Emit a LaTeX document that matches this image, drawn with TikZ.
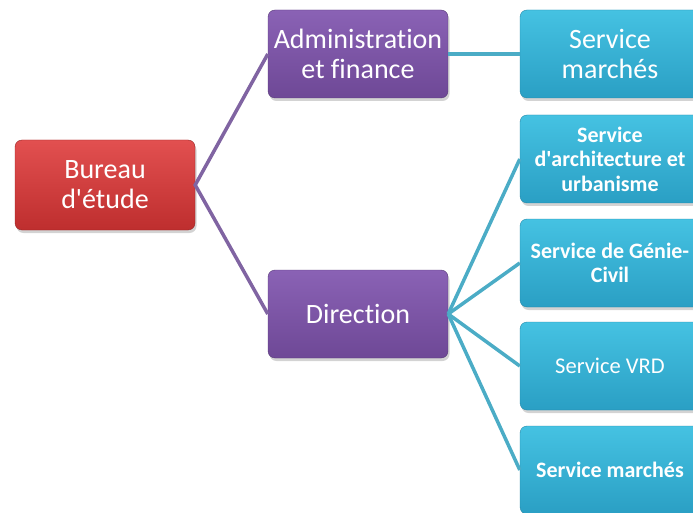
\documentclass[tikz,border=0pt]{standalone}
\usepackage{fontspec}
\setmainfont{Carlito}[Ligatures={NoCommon}]
\usetikzlibrary{shadows}

\definecolor{redtop}{HTML}{E25050}
\definecolor{redbot}{HTML}{BE2E2E}
\definecolor{purtop}{HTML}{8A62B5}
\definecolor{purbot}{HTML}{6E4896}
\definecolor{aqutop}{HTML}{45C2E2}
\definecolor{aqubot}{HTML}{2A9FC4}
\definecolor{purline}{HTML}{8064A2}
\definecolor{aquline}{HTML}{4BACC6}

\newcommand{\apos}{\textquotesingle}

\tikzset{
  card/.style={rounded corners=7pt, minimum width=180pt, minimum height=88pt,
    align=center, text=white, inner sep=2pt,
    drop shadow={opacity=0.35, shadow xshift=1.5pt, shadow yshift=-3pt}},
  redcard/.style={card, top color=redtop, bottom color=redbot, draw=redbot!80!black,
    font=\fontsize{28}{30}\selectfont},
  purcard/.style={card, top color=purtop, bottom color=purbot, draw=purbot!80!black,
    font=\fontsize{28}{30}\selectfont},
  aqucard/.style={card, top color=aqutop, bottom color=aqubot, draw=aqubot!85!black},
  bigtext/.style={font=\fontsize{28}{30}\selectfont},
  boldtext/.style={font=\fontsize{22}{24.5}\bfseries\selectfont},
  plaintext/.style={font=\fontsize{22.5}{24}\selectfont},
  purlink/.style={draw=purline, line width=3.5pt},
  aqulink/.style={draw=aquline, line width=3.5pt},
}

\begin{document}
\begin{tikzpicture}[x=1pt, y=-1pt]
  \useasboundingbox (0,0) rectangle (693,513);

  % first level
  \node[redcard, minimum height=90pt] (bureau) at (105,185) {Bureau\\d\apos étude};

  % second level
  \node[purcard] (admin) at (358,54) {Administration\\et finance};
  \node[purcard] (direction) at (358,314) {Direction};

  % services
  \node[aqucard, bigtext] (marches1) at (610,54) {Service\\marchés};
  \node[aqucard, boldtext] (archi) at (610,159) {Service\\d\apos architecture et\\urbanisme};
  \node[aqucard, boldtext] (genie) at (610,263) {Service de Génie-\\Civil};
  \node[aqucard, plaintext] (vrd) at (610,366) {Service VRD};
  \node[aqucard, boldtext] (marches2) at (610,470) {Service marchés};

  % connectors
  \draw[purlink] (admin.west) -- (bureau.east) -- (direction.west);
  \draw[aqulink] (admin.east) -- (marches1.west);
  \foreach \s in {archi, genie, vrd, marches2}
    \draw[aqulink] (direction.east) -- (\s.west);
\end{tikzpicture}
\end{document}
